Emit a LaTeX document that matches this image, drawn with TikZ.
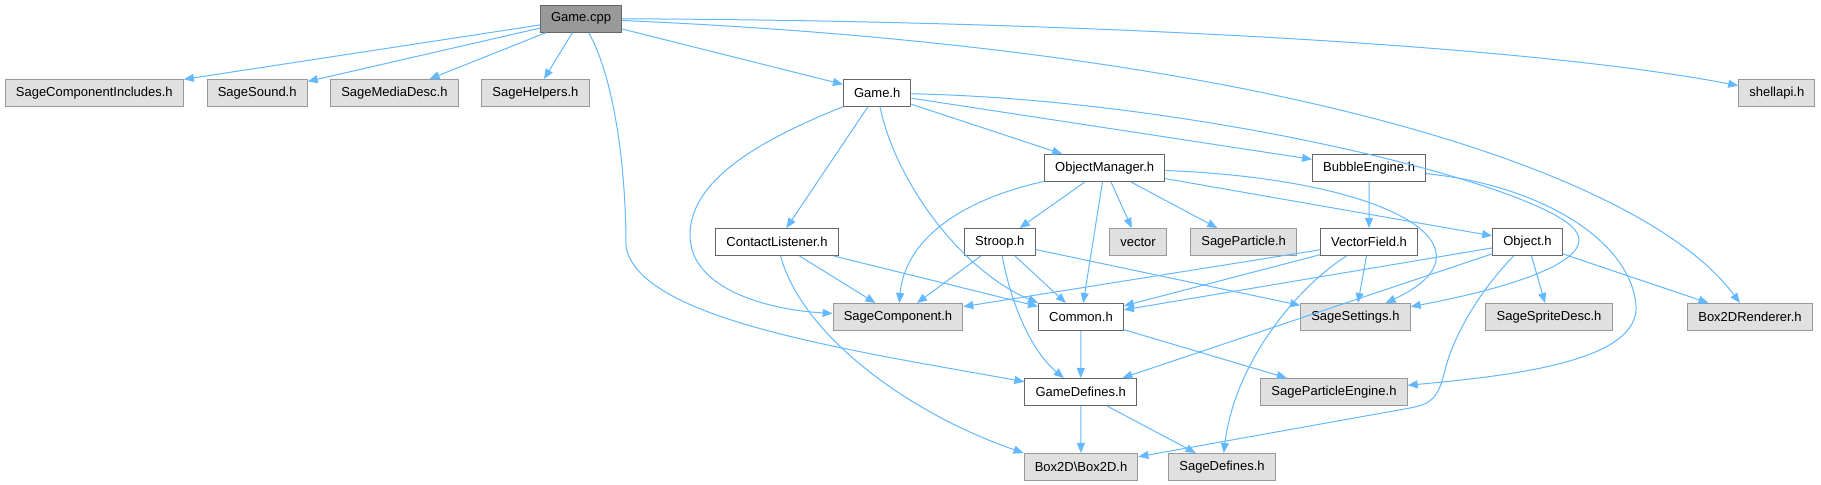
\documentclass[tikz,border=0pt]{standalone}
\usepackage{fontspec}
\setmainfont{Liberation Sans}
\usetikzlibrary{arrows.meta}
\definecolor{edgeblue}{HTML}{63B8FF}
\definecolor{rootfill}{HTML}{999999}
\definecolor{extfill}{HTML}{E0E0E0}
\definecolor{darkline}{HTML}{666666}
\definecolor{extline}{HTML}{999999}
\tikzset{
  box/.style={draw=darkline,fill=white,line width=0.75pt,minimum height=20.25pt,
              inner xsep=8pt,inner ysep=0pt,font=\fontsize{9.75}{11}\selectfont},
  boxe/.style={box,draw=extline,fill=extfill},
  boxr/.style={box,fill=rootfill},
  fl/.style={edgeblue,line width=0.75pt,-{Triangle[length=7.5pt,width=6pt]}},
}

\begin{document}
\begin{tikzpicture}[x=0.75pt, y=-0.75pt]
  \fill[white] (0,0) rectangle (1821,485);
  \useasboundingbox (0,0) rectangle (1821,485);
  % rows of the include graph
  \node[boxr] (gamecpp) at (581,18.7) {Game.cpp};
  \node[boxe] (incl) at (94.3,93) {SageComponentIncludes.h};
  \node[boxe] (sound) at (257.2,93) {SageSound.h};
  \node[boxe] (media) at (394.4,93) {SageMediaDesc.h};
  \node[boxe] (helpers) at (535.4,93) {SageHelpers.h};
  \node[box] (gameh) at (877.2,93) {Game.h};
  \node[boxe] (shellapi) at (1776.8,93) {shellapi.h};
  \node[box] (objmgr) at (1104.7,168) {ObjectManager.h};
  \node[box] (bubble) at (1369.1,168) {BubbleEngine.h};
  \node[box] (contact) at (777,242) {ContactListener.h};
  \node[box] (stroop) at (999.8,242) {Stroop.h};
  \node[boxe] (vector) at (1138,242) {vector};
  \node[boxe] (particle) at (1243.6,242) {SageParticle.h};
  \node[box] (vfield) at (1369,242) {VectorField.h};
  \node[box] (object) at (1527.5,242) {Object.h};
  \node[boxe] (comp) at (898,317) {SageComponent.h};
  \node[box] (common) at (1081,317) {Common.h};
  \node[boxe] (settings) at (1355.4,317) {SageSettings.h};
  \node[boxe] (sprite) at (1549,317) {SageSpriteDesc.h};
  \node[boxe] (b2drend) at (1750,317) {Box2DRenderer.h};
  \node[box] (defines) at (1080.7,392) {GameDefines.h};
  \node[boxe] (pengine) at (1334,392) {SageParticleEngine.h};
  \node[boxe] (box2d) at (1081,467) {Box2D\textbackslash Box2D.h};
  \node[boxe] (sdefines) at (1222,467) {SageDefines.h};
  % straight includes
  \foreach \a/\b in {gamecpp/incl,gamecpp/sound,gamecpp/media,gamecpp/helpers,
      gamecpp/gameh,gameh/contact,gameh/objmgr,gameh/bubble,
      objmgr/stroop,objmgr/common,objmgr/vector,objmgr/particle,objmgr/object,
      bubble/vfield,contact/comp,contact/common,
      stroop/comp,stroop/common,stroop/settings,
      vfield/comp,vfield/common,vfield/settings,
      object/common,object/defines,object/sprite,object/b2drend,
      common/defines,common/pengine,defines/box2d,defines/sdefines}
    \draw[fl] (\a) -- (\b);
  % curved includes
  \draw[fl] (gamecpp) .. controls (1000,20) and (1500,40) .. (shellapi);
  \draw[fl] (gamecpp) .. controls (1300,50) and (1650,180) .. (b2drend);
  \draw[fl] (gamecpp) .. controls (615,80) and (626,170) .. (626,247)
            .. controls (640,320) and (850,350) .. (defines);
  \draw[fl] (gameh) .. controls (760,140) and (690,180) .. (690,235)
            .. controls (690,290) and (770,310) .. (comp);
  \draw[fl] (gameh) .. controls (895,180) and (960,270) .. (common.north west);
  \draw[fl] (gameh) .. controls (1200,100) and (1540,185) .. (1575,230)
            .. controls (1600,262) and (1500,290) .. (settings);
  \draw[fl] (objmgr) .. controls (960,200) and (905,240) .. (comp);
  \draw[fl] (objmgr) .. controls (1400,180) and (1500,250) .. (settings);
  \draw[fl] (bubble) .. controls (1540,185) and (1630,240) .. (1636,305)
            .. controls (1640,360) and (1520,375) .. (pengine);
  \draw[fl] (contact) .. controls (800,330) and (900,410) .. (box2d.north west);
  \draw[fl] (stroop) .. controls (1010,300) and (1030,350) .. (defines);
  \draw[fl] (vfield) .. controls (1300,285) and (1235,360) .. (sdefines);
  \draw[fl] (object) .. controls (1485,285) and (1455,330) .. (1445,370)
            .. controls (1438,400) and (1430,404) .. (1410,408) -- (box2d);
\end{tikzpicture}
\end{document}
